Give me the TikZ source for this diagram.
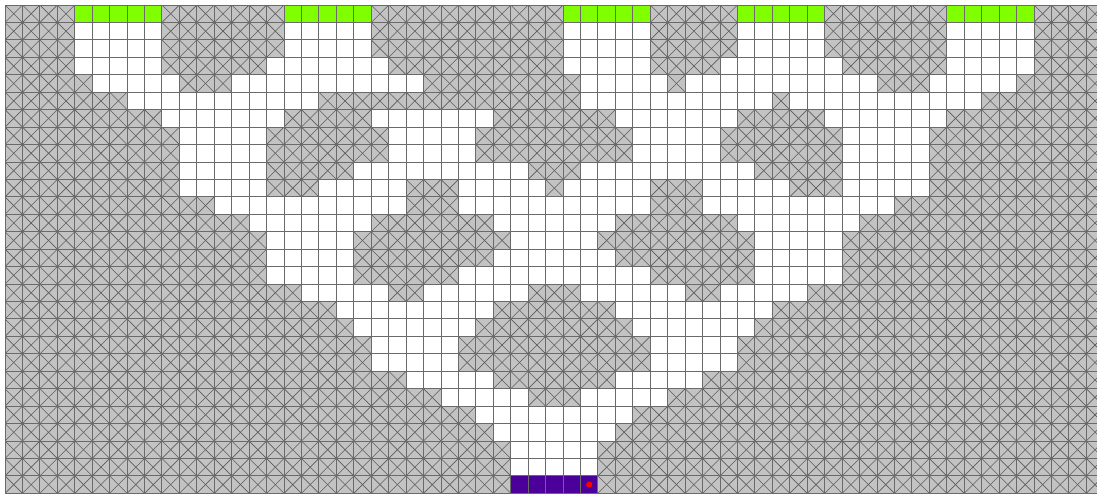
\documentclass[tikz,border=0pt]{standalone}
\definecolor{cellgray}{HTML}{C3C3C3}
\definecolor{xline}{HTML}{5C5C5C}
\definecolor{gline}{HTML}{6A6A6A}
\definecolor{goalgreen}{HTML}{80FF00}
\definecolor{startpurple}{HTML}{4B0099}
\begin{document}
\begin{tikzpicture}[x=0.75pt,y=-0.75pt,
  wallfill/.style={fill=cellgray},
  crossline/.style={draw=xline,line width=0.45pt},
  freecell/.style={fill=white},
  goalcell/.style={fill=goalgreen},
  startcell/.style={fill=startpurple},
  gridline/.style={draw=gline,line width=0.7pt},
  agentdot/.style={fill=red}]
\def\s{17.44}
\useasboundingbox (0,0) rectangle (1097,494);
\begin{scope}
\clip (0,0) rectangle (1097,494);
\fill[white] (0,0) rectangle (1097,494);
\begin{scope}
\clip (5,5) rectangle ({5+63*\s},{5+28*\s});
\path[wallfill] (5,5) rectangle ({5+63*\s},{5+28*\s});
\foreach \k in {-28,...,63} {
  \draw[crossline] ({5+\k*\s},5) -- ++({28*\s},{28*\s});
}
\foreach \k in {0,...,91} {
  \draw[crossline] ({5+\k*\s},5) -- ++({-28*\s},{28*\s});
}
\end{scope}
% free cells
\foreach \r/\a/\b in {
  1/4/8, 1/16/20, 1/32/36, 1/42/46, 1/54/58,
  2/4/8, 2/16/20, 2/32/36, 2/42/46, 2/54/58,
  3/4/8, 3/15/21, 3/32/36, 3/41/47, 3/54/58,
  4/5/9, 4/13/23, 4/33/37, 4/39/49, 4/53/57,
  5/7/17, 5/33/43, 5/45/55,
  6/9/15, 6/21/27, 6/35/41, 6/47/53,
  7/10/14, 7/22/26, 7/36/40, 7/48/52,
  8/10/14, 8/22/26, 8/36/40, 8/48/52,
  9/10/14, 9/20/29, 9/33/42, 9/48/52,
  10/10/14, 10/18/22, 10/26/30, 10/32/36, 10/40/44, 10/48/52,
  11/12/22, 11/26/36, 11/40/50,
  12/14/20, 12/28/34, 12/42/48,
  13/15/19, 13/29/33, 13/43/47,
  14/15/19, 14/28/34, 14/43/47,
  15/15/19, 15/26/36, 15/43/47,
  16/17/21, 16/24/29, 16/33/38, 16/41/45,
  17/19/27, 17/35/43,
  18/20/26, 18/36/42,
  19/21/25, 19/37/41,
  20/21/25, 20/37/41,
  21/23/27, 21/35/39,
  22/25/29, 22/33/37,
  23/27/35,
  24/28/34,
  25/29/33,
  26/29/33} {
  \path[freecell] ({5+\a*\s},{5+\r*\s}) rectangle ({5+(\b+1)*\s},{5+(\r+1)*\s});
}
% goal cells
\foreach \a/\b in {4/8, 16/20, 32/36, 42/46, 54/58} {
  \path[goalcell] ({5+\a*\s},5) rectangle ({5+(\b+1)*\s},{5+\s});
}
% start cells
\path[startcell] ({5+29*\s},{5+27*\s}) rectangle ({5+34*\s},{5+28*\s});
% grid
\foreach \c in {0,...,63} {
  \draw[gridline] ({5+\c*\s},5) -- ({5+\c*\s},{5+28*\s});
}
\foreach \r in {0,...,28} {
  \draw[gridline] (5,{5+\r*\s}) -- ({5+63*\s},{5+\r*\s});
}
% agent
\fill[agentdot] ({5+33.5*\s},{5+27.5*\s}) circle[radius=2.3pt];
\end{scope}
\end{tikzpicture}
\end{document}
